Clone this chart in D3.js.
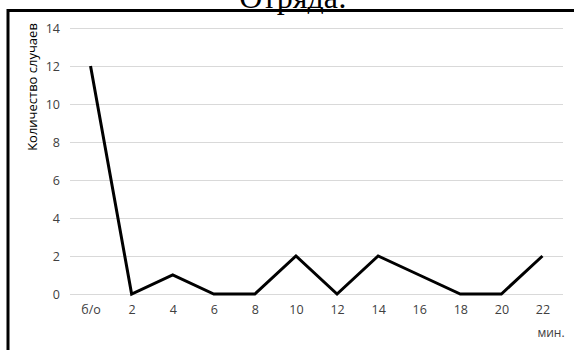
<!DOCTYPE html>
<html><head><meta charset="utf-8">
<script src="https://cdn.jsdelivr.net/npm/d3@7"></script>
<style>body{margin:0;background:#fff}svg{display:block}</style>
</head><body>
<script>
const categories = ["б/о","2","4","6","8","10","12","14","16","18","20","22"];
const values = [12,0,1,0,0,2,0,2,1,0,0,2];
const yTicks = [0,2,4,6,8,10,12,14];
const title = "Отряда:";
const yLabel = "Количество случаев";
const xUnit = "мин.";

const W=574,H=350;
const svg=d3.select("body").append("svg").attr("width",W).attr("height",H);
const mLeft=70,mRight=563,mTop=28,mBottom=294;
const x=d3.scalePoint().domain(categories).range([mLeft,mRight]).padding(0.5);
const y=d3.scaleLinear().domain([0,14]).range([mBottom,mTop]);

// title (cut off at the top edge, as in the reference)
svg.append("text").attr("x",293).attr("y",7.5).attr("text-anchor","middle")
  .attr("font-family","Liberation Serif, serif").attr("font-size",32).attr("fill","#000").text(title);
// frame
svg.append("path").attr("d",`M8,${H} V10.5 H${W}`).attr("fill","none").attr("stroke","#000").attr("stroke-width",3);

// grid
const ya=d3.axisLeft(y).tickValues(yTicks).tickSize(-(mRight-mLeft)).tickPadding(10);
const gy=svg.append("g").attr("transform",`translate(${mLeft},0)`).call(ya);
gy.select(".domain").remove();
gy.selectAll(".tick line").attr("stroke","#d9d9d9").attr("stroke-width",1);
gy.selectAll(".tick text").attr("fill","#404040").attr("font-size",12.5).attr("font-family","Open Sans, Liberation Sans, sans-serif");

const xa=d3.axisBottom(x).tickSize(0).tickPadding(11);
const gx=svg.append("g").attr("transform",`translate(0,${mBottom})`).call(xa);
gx.select(".domain").remove();
gx.selectAll(".tick text").attr("fill","#404040").attr("font-size",12.5).attr("font-family","Open Sans, Liberation Sans, sans-serif");

svg.append("path").datum(values)
  .attr("d",d3.line().x((d,i)=>x(categories[i])).y(d=>y(d)))
  .attr("fill","none").attr("stroke","#000").attr("stroke-width",3).attr("stroke-linejoin","miter");

svg.append("text").attr("transform","translate(37,87) rotate(-90)").attr("text-anchor","middle")
  .attr("font-family","Open Sans, Liberation Sans, sans-serif").attr("font-size",13).attr("fill","#000").text(yLabel);
svg.append("text").attr("x",551).attr("y",337).attr("text-anchor","middle")
  .attr("font-family","Open Sans, Liberation Sans, sans-serif").attr("font-size",12).attr("fill","#404040").text(xUnit);
</script>
</body></html>
